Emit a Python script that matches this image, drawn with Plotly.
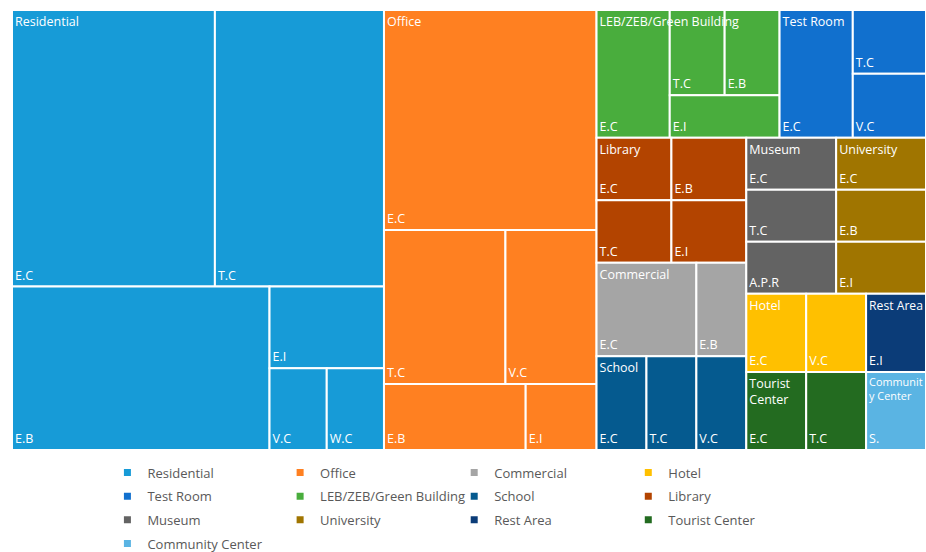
import plotly.graph_objects as go

# Categories (legend order) and colours
categories = ["Residential", "Office", "Commercial", "Hotel", "Test Room",
              "LEB/ZEB/Green Building", "School", "Library", "Museum",
              "University", "Rest Area", "Tourist Center", "Community Center"]
colors = ["#179BD7", "#FF8021", "#A5A5A5", "#FFC000", "#1170CE",
          "#49AD3D", "#055A8F", "#B34400", "#636363",
          "#A07500", "#0B3C78", "#236B20", "#5AB4E3"]
# category names as wrapped inside the tiles
tile_names = {"Tourist Center": "Tourist<br>Center",
              "Community Center": "Communit<br>y Center"}

# Sub-items (label, count) per category
items = {
    "Residential": [("E.C", 12), ("T.C", 10), ("E.B", 9), ("E.I", 2), ("V.C", 1), ("W.C", 1)],
    "Office": [("E.C", 10), ("T.C", 4), ("V.C", 3), ("E.B", 2), ("E.I", 1)],
    "Commercial": [("E.C", 2), ("E.B", 1)],
    "Hotel": [("E.C", 1), ("V.C", 1)],
    "Test Room": [("E.C", 2), ("T.C", 1), ("V.C", 1)],
    "LEB/ZEB/Green Building": [("E.C", 2), ("T.C", 1), ("E.B", 1), ("E.I", 1)],
    "School": [("E.C", 1), ("T.C", 1), ("V.C", 1)],
    "Library": [("E.C", 1), ("T.C", 1), ("E.B", 1), ("E.I", 1)],
    "Museum": [("E.C", 1), ("T.C", 1), ("A.P.R", 1)],
    "University": [("E.C", 1), ("E.B", 1), ("E.I", 1)],
    "Rest Area": [("E.I", 1)],
    "Tourist Center": [("E.C", 1), ("T.C", 1)],
    "Community Center": [("S.", 1)],
}

color_of = dict(zip(categories, colors))
totals = {c: sum(v for _, v in items[c]) for c in categories}
order = sorted(categories, key=lambda c: -totals[c])

ids, labels, parents, values, node_colors, leaf_text = [], [], [], [], [], []
for c in order:
    ids.append(c); labels.append(c); parents.append(""); values.append(totals[c])
    node_colors.append(color_of[c]); leaf_text.append("")
    for lab, v in items[c]:
        ids.append(c + "/" + lab); labels.append(lab); parents.append(c)
        values.append(v); node_colors.append(color_of[c]); leaf_text.append(lab)

FONT = "Open Sans, sans-serif"
DOMAIN = dict(x=[12/926, 1.0], y=[102/552, 542/552])
TILING = dict(packing="squarify", squarifyratio=1, pad=0)

fig = go.Figure()
# coloured tiles with sub-item labels at bottom left
fig.add_trace(go.Treemap(
    ids=ids, labels=labels, parents=parents, values=values,
    branchvalues="total", sort=True, tiling=TILING, domain=DOMAIN,
    pathbar=dict(visible=False),
    marker=dict(colors=node_colors, line=dict(color="white", width=2),
                pad=dict(t=0, l=0, r=0, b=0)),
    text=leaf_text, texttemplate="%{text}",
    textposition="bottom left",
    textfont=dict(family=FONT, size=12.5, color="white"),
    hoverinfo="label+value",
))
# category level only (same top-level tiling), transparent, names at top left
fig.add_trace(go.Treemap(
    ids=order, labels=order, parents=[""] * len(order),
    values=[totals[c] for c in order],
    text=[tile_names.get(c, c) for c in order], texttemplate="%{text}",
    sort=True, tiling=TILING, domain=DOMAIN,
    pathbar=dict(visible=False),
    marker=dict(colors=["rgba(0,0,0,0)"] * len(order), line=dict(width=0),
                pad=dict(t=0, l=0, r=0, b=0)),
    textposition="top left",
    textfont=dict(family=FONT, size=12.5, color="white"),
    hoverinfo="skip",
))

# legend laid out in 4 columns, row-major as in the reference
legend_names = ["legend", "legend2", "legend3", "legend4"]
for i, c in enumerate(categories):
    fig.add_trace(go.Scatter(x=[None], y=[None], mode="markers", name=c,
                             legend=legend_names[i % 4], legendgroup=c,
                             marker=dict(symbol="square", size=7, color=color_of[c]),
                             showlegend=True))

col_x = [0.1160, 0.3025, 0.4905, 0.6785]
leg_common = dict(orientation="v", y=0.1712, xanchor="left", yanchor="top",
                  itemwidth=30, bgcolor="rgba(0,0,0,0)", tracegroupgap=3.8,
                  font=dict(family=FONT, size=13, color="#595959"))
layout_legends = {name: dict(x=col_x[k], **leg_common) for k, name in enumerate(legend_names)}

fig.update_layout(
    width=926, height=552,
    margin=dict(l=0, r=0, t=0, b=0, autoexpand=False),
    paper_bgcolor="white", plot_bgcolor="white",
    xaxis=dict(visible=False), yaxis=dict(visible=False),
    **layout_legends,
)

fig.write_html("out.html", include_plotlyjs=True,
               config={"displayModeBar": False},
               post_script="document.body.style.margin='0';document.body.style.overflow='hidden';")
